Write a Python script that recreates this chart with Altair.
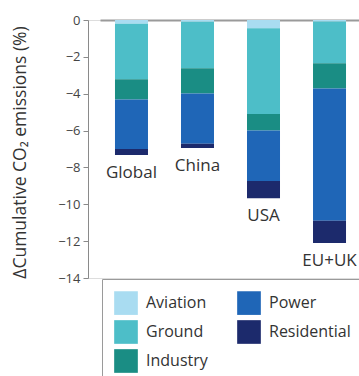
import altair as alt
import pandas as pd

# Change in cumulative CO2 emissions (%) by sector and region
regions = ["Global", "China", "USA", "EU+UK"]
sectors = ["Aviation", "Ground", "Industry", "Power", "Residential"]
aviation = [-0.20, -0.10, -0.45, -0.08]
ground = [-3.02, -2.52, -4.65, -2.27]
industry = [-1.10, -1.37, -0.90, -1.37]
power = [-2.68, -2.73, -2.74, -7.18]
residential = [-0.33, -0.22, -0.93, -1.20]

colors = ["#a9dcf1", "#4dbec8", "#1a8d84", "#1f66b7", "#1c2a6c"]

series = [aviation, ground, industry, power, residential]
rows = []
for k, (sector, vals) in enumerate(zip(sectors, series)):
    for region, v in zip(regions, vals):
        rows.append({"region": region, "sector": sector, "value": v, "rank": k})
df = pd.DataFrame(rows)

totals = pd.DataFrame({
    "region": regions,
    "total": [sum(s[i] for s in series) for i in range(len(regions))],
})

W, H = 271, 258
FONT = "Open Sans"
GREY = "#9a9a9a"

# band scale offset slightly from the y axis; its top axis line marks zero
x_scale = alt.Scale(domain=regions, range=[12, 273], paddingInner=0.5, paddingOuter=0.227)
y_scale = alt.Scale(domain=[-14, 0], nice=False, zero=False)

x_axis = alt.Axis(
    orient="top",
    domain=True,
    domainColor=GREY,
    domainWidth=2,
    ticks=False,
    labels=False,
    grid=False,
    title=None,
)
x_enc = alt.X("region:N", scale=x_scale, axis=x_axis, sort=regions)

bars = alt.Chart(df).mark_bar(size=33).encode(
    x=x_enc,
    y=alt.Y(
        "sum(value):Q",
        scale=y_scale,
        stack="zero",
        title="ΔCumulative CO₂ emissions (%)",
        axis=alt.Axis(
            tickCount=8,
            grid=False,
            tickSize=5,
            tickColor="#8a8a8a",
            domainColor="#8a8a8a",
            labelColor="#444444",
            labelFontSize=13,
            labelFont=FONT,
            labelPadding=3,
            labelOverlap=False,
            titleFont=FONT,
            titleFontSize=17.5,
            titleFontWeight="normal",
            titleColor="#333333",
            titleX=-68,
            titleY=132,
            titleBaseline="middle",
        ),
    ),
    color=alt.Color(
        "sector:N",
        scale=alt.Scale(domain=sectors, range=colors),
        legend=alt.Legend(
            title=None,
            orient="none",
            legendX=14,
            legendY=259,
            columns=2,
            direction="vertical",
            symbolType="square",
            symbolSize=560,
            symbolStrokeWidth=0,
            symbolOpacity=1,
            labelFont=FONT,
            labelFontSize=16,
            labelColor="#333333",
            labelOffset=8,
            rowPadding=5,
            columnPadding=29,
            padding=12,
            strokeColor=GREY,
            fillColor="white",
        ),
    ),
    order=alt.Order("rank:Q", sort="ascending"),
)

labels = alt.Chart(totals).mark_text(
    baseline="middle", align="center", dy=18, fontSize=17, font=FONT, color="#333333"
).encode(
    x=x_enc,
    y=alt.Y("total:Q", scale=y_scale),
    text="region:N",
)

chart = alt.layer(bars, labels).properties(
    width=W,
    height=H,
    autosize=alt.AutoSizeParams(type="none"),
    padding={"left": 88, "top": 20, "right": 0, "bottom": 98},
).configure_view(stroke=None).configure(background="white")

chart.save("out.html", embed_options={"renderer": "svg", "actions": False})
